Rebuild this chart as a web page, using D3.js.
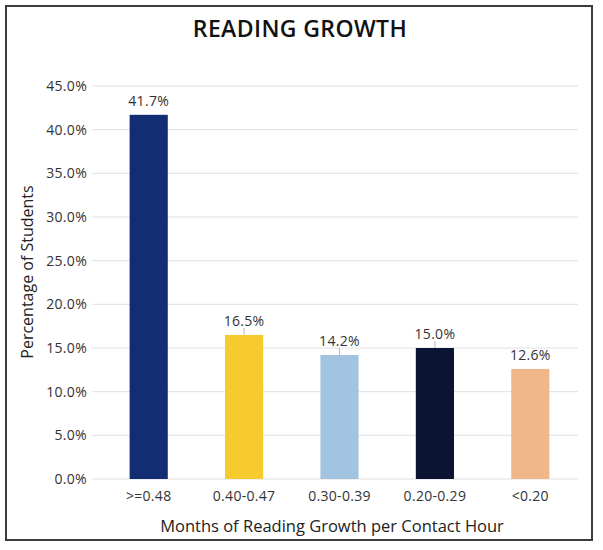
<!DOCTYPE html>
<html><head><meta charset="utf-8">
<script src="https://cdn.jsdelivr.net/npm/d3@7"></script>
<style>body{margin:0;background:#fff;} text{font-family:"Open Sans",sans-serif;}</style>
</head><body>
<svg id="chart" width="603" height="550"></svg>
<script>
const categories = [">=0.48", "0.40-0.47", "0.30-0.39", "0.20-0.29", "<0.20"];
const values = [41.7, 16.5, 14.2, 15.0, 12.6];
const colors = ["#132d75", "#f7cb2e", "#a3c4e1", "#0b1533", "#f0b78b"];
const yTicks = [0, 5, 10, 15, 20, 25, 30, 35, 40, 45];
const leaderShown = [false, true, true, true, false];

const data = categories.map((c, i) => ({c, v: values[i], color: colors[i], leader: leaderShown[i]}));

const svg = d3.select("#chart");
svg.append("rect").attr("x", 6).attr("y", 6).attr("width", 586).attr("height", 534)
  .attr("fill", "#fff").attr("stroke", "#3c3c3c").attr("stroke-width", 2);

const x = d3.scaleBand().domain(categories).range([101, 578]).paddingInner(0.6).paddingOuter(0.3);
const y = d3.scaleLinear().domain([0, 45]).range([479, 86]);

svg.append("text").attr("x", 300).attr("y", 37).attr("text-anchor", "middle")
  .attr("font-size", 23).attr("font-weight", 600).attr("fill", "#111")
  .attr("letter-spacing", 0.4).text("READING GROWTH");

svg.append("g").selectAll("line").data(yTicks).join("line")
  .attr("x1", 92).attr("x2", 578).attr("y1", d => y(d)).attr("y2", d => y(d))
  .attr("stroke", "#e0e0e0").attr("stroke-width", 1);

const yAxis = svg.append("g").attr("transform", "translate(87,0)")
  .call(d3.axisLeft(y).tickValues(yTicks).tickFormat(d => d.toFixed(1) + "%").tickSize(0).tickPadding(0));
yAxis.select(".domain").remove();
yAxis.selectAll("text").attr("font-size", 14).attr("fill", "#333")
  .attr("font-family", "Open Sans, sans-serif").attr("letter-spacing", 0.3);

svg.append("g").selectAll("rect").data(data).join("rect")
  .attr("x", d => x(d.c)).attr("width", x.bandwidth())
  .attr("y", d => y(d.v)).attr("height", d => y(0) - y(d.v))
  .attr("fill", d => d.color);

svg.append("g").selectAll("line").data(data.filter(d => d.leader)).join("line")
  .attr("x1", d => x(d.c) + x.bandwidth() / 2)
  .attr("x2", d => x(d.c) + x.bandwidth() / 2)
  .attr("y1", d => y(d.v) - 7).attr("y2", d => y(d.v))
  .attr("stroke", "#bbb").attr("stroke-width", 1);

svg.append("g").selectAll("text").data(data).join("text")
  .attr("x", d => x(d.c) + x.bandwidth() / 2)
  .attr("y", d => y(d.v) - 9)
  .attr("text-anchor", "middle").attr("font-size", 14).attr("fill", "#333")
  .attr("letter-spacing", 0.3)
  .text(d => d.v.toFixed(1) + "%");

const xAxis = svg.append("g").attr("transform", "translate(0,479)")
  .call(d3.axisBottom(x).tickSize(0).tickPadding(12));
xAxis.select(".domain").remove();
xAxis.selectAll("text").attr("font-size", 14).attr("fill", "#333")
  .attr("font-family", "Open Sans, sans-serif").attr("letter-spacing", 0.3);

svg.append("text").attr("x", 332).attr("y", 532).attr("text-anchor", "middle")
  .attr("font-size", 16.5).attr("fill", "#222").text("Months of Reading Growth per Contact Hour");

svg.append("text").attr("transform", "translate(33,272) rotate(-90)").attr("text-anchor", "middle")
  .attr("font-size", 16).attr("fill", "#222").text("Percentage of Students");
</script>
</body></html>
